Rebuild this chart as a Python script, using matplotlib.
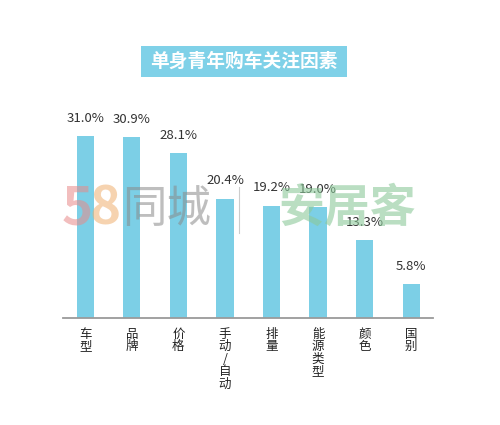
import matplotlib
matplotlib.use("Agg")
import matplotlib.pyplot as plt
from matplotlib.patches import Rectangle

plt.rcParams['font.family'] = ['Noto Sans CJK SC', 'DejaVu Sans']

title = "单身青年购车关注因素"
categories = ["车型", "品牌", "价格", "手动/自动", "排量", "能源类型", "颜色", "国别"]
values = [31.0, 30.9, 28.1, 20.4, 19.2, 19.0, 13.3, 5.8]
value_labels = ["31.0%", "30.9%", "28.1%", "20.4%", "19.2%", "19.0%", "13.3%", "5.8%"]

bar_color = "#7ccfe6"

fig = plt.figure(figsize=(5.0, 4.25), dpi=100)
fig.patch.set_facecolor("white")

# title box
fig.patches.append(Rectangle((141/500, 1-77/425), 206/500, 31/425,
                             transform=fig.transFigure, facecolor="#7fd1e8",
                             edgecolor="none", zorder=0))
fig.text(244/500, 1-61.5/425, title, ha="center", va="center",
         fontsize=13.5, color="white", fontweight="bold")

ax = fig.add_axes([63/500, 1-318/425, 370/500, 205/425])
x = list(range(len(categories)))
ax.bar(x, values, width=0.37, color=bar_color, zorder=2)
for xi, v, lab in zip(x, values, value_labels):
    ax.annotate(lab, (xi, v), xytext=(0, 8), textcoords="offset points",
                ha="center", va="bottom", fontsize=9.5, color="#333333")

ax.set_xlim(-0.48, 7.47)
ax.set_ylim(0, 35)
for s in ["top", "right", "left"]:
    ax.spines[s].set_visible(False)
ax.spines["bottom"].set_color("#9a9a9a")
ax.spines["bottom"].set_linewidth(1.3)
ax.set_yticks([])
ax.set_xticks(x)

def vert(label):
    return "\n".join(list(label))

ax.set_xticklabels([vert(c) for c in categories], fontsize=9, color="#222222",
                   linespacing=0.95, va="top")
ax.tick_params(axis="x", length=0, pad=7)

# watermark
fig.text(62/500, 1-209/425, "5", fontsize=38, color="#e88a8a", alpha=0.55,
         ha="left", va="center", fontweight="bold")
fig.text(90/500, 1-209/425, "8", fontsize=38, color="#f0b070", alpha=0.55,
         ha="left", va="center", fontweight="bold")
fig.text(122/500, 1-209/425, "同城", fontsize=32, color="#8a8a8a", alpha=0.55,
         ha="left", va="center")
fig.add_artist(plt.Line2D([239/500, 239/500], [1-187/425, 1-233/425],
                          transform=fig.transFigure, color="#aaaaaa",
                          alpha=0.6, linewidth=0.8))
fig.text(347/500, 1-209/425, "安居客", fontsize=33, color="#8cc99a", alpha=0.6,
         ha="center", va="center", fontweight="bold")

fig.savefig("out.png", dpi=100, facecolor="white")
